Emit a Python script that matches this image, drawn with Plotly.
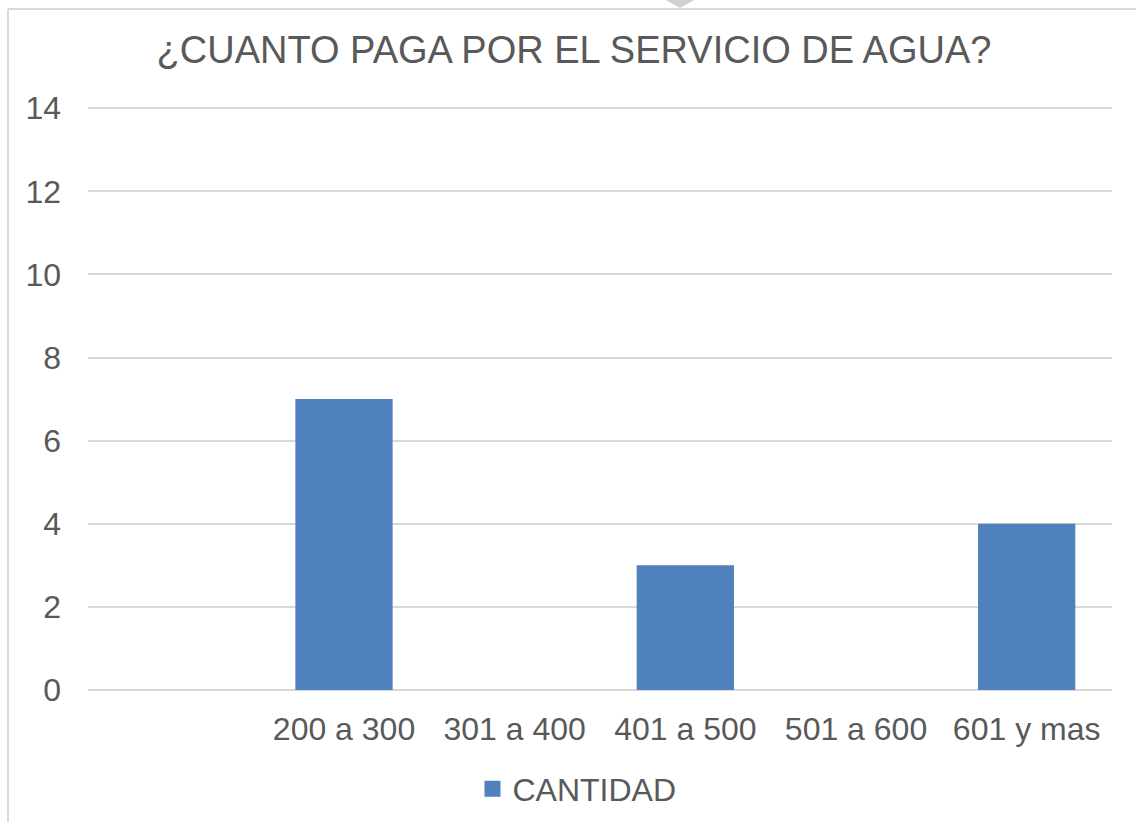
import plotly.graph_objects as go

categories = [" ", "200 a 300", "301 a 400", "401 a 500", "501 a 600", "601 y mas"]
cantidad = [None, 7, 0, 3, 0, 4]
series_name = "CANTIDAD"
title_text = "¿CUANTO PAGA POR EL SERVICIO DE AGUA?"
y_ticks = [0, 2, 4, 6, 8, 10, 12, 14]

W, H = 1136, 822
L, R, T, B = 88, 24, 107, 132
pw, ph = W - L - R, H - T - B

def px_to_paper_x(px):
    return (px - L) / pw

def px_to_paper_y(py):
    return (H - B - py) / ph

TEXT = "#595959"
GRID = "#D9D9D9"
BAR = "#4F81BD"
FONT = "Liberation Sans, Arial, sans-serif"

fig = go.Figure()
fig.add_trace(go.Bar(
    x=categories, y=cantidad, name=series_name,
    marker=dict(color=BAR, line=dict(width=0)),
    showlegend=False,
))
# legend entry with a larger square symbol
fig.add_trace(go.Scatter(
    x=[None], y=[None], mode="markers", name=series_name,
    marker=dict(symbol="square", size=17, color=BAR),
    showlegend=True, hoverinfo="skip",
))

fig.update_layout(
    width=W, height=H,
    margin=dict(l=L, r=R, t=T, b=B),
    paper_bgcolor="white", plot_bgcolor="white",
    font=dict(family=FONT, color=TEXT, size=32),
    bargap=0.43,
    title=dict(text=title_text, x=574 / W, xref="container", xanchor="center",
               y=1 - 50 / H, yref="container", yanchor="middle",
               font=dict(size=38, color=TEXT, family=FONT)),
    xaxis=dict(type="category", categoryorder="array", categoryarray=categories,
               range=[-0.5, len(categories) - 0.5],
               showgrid=False, showline=False, zeroline=False, ticks="",
               ticklabelstandoff=17, tickfont=dict(size=32, color=TEXT)),
    yaxis=dict(range=[0, 14.03], tickvals=y_ticks, showgrid=True, gridcolor=GRID,
               gridwidth=1.5, zeroline=True, zerolinecolor=GRID, zerolinewidth=1.5,
               showline=False, ticks="", ticklabelstandoff=26,
               tickfont=dict(size=32, color=TEXT)),
    legend=dict(orientation="h", x=577 / W, xref="container", xanchor="center",
                y=1 - 789 / H, yref="container", yanchor="middle",
                font=dict(size=32, color=TEXT), itemwidth=30, itemsizing="trace",
                bgcolor="rgba(0,0,0,0)"),
    shapes=[
        dict(type="line", xref="paper", yref="paper",
             x0=px_to_paper_x(8), x1=px_to_paper_x(W + 5),
             y0=px_to_paper_y(9), y1=px_to_paper_y(9),
             line=dict(color=GRID, width=2)),
        dict(type="line", xref="paper", yref="paper",
             x0=px_to_paper_x(8), x1=px_to_paper_x(8),
             y0=px_to_paper_y(9), y1=px_to_paper_y(H + 5),
             line=dict(color=GRID, width=2)),
        dict(type="path", xref="paper", yref="paper",
             path=f"M {px_to_paper_x(664)},{px_to_paper_y(-1)} L {px_to_paper_x(696)},{px_to_paper_y(-1)} L {px_to_paper_x(680)},{px_to_paper_y(8)} Z",
             fillcolor="#D0D0D0", line=dict(width=0)),
    ],
)

fig.write_html("out.html", config={"displayModeBar": False},
               post_script="document.body.style.margin='0';document.body.style.overflow='hidden';")
